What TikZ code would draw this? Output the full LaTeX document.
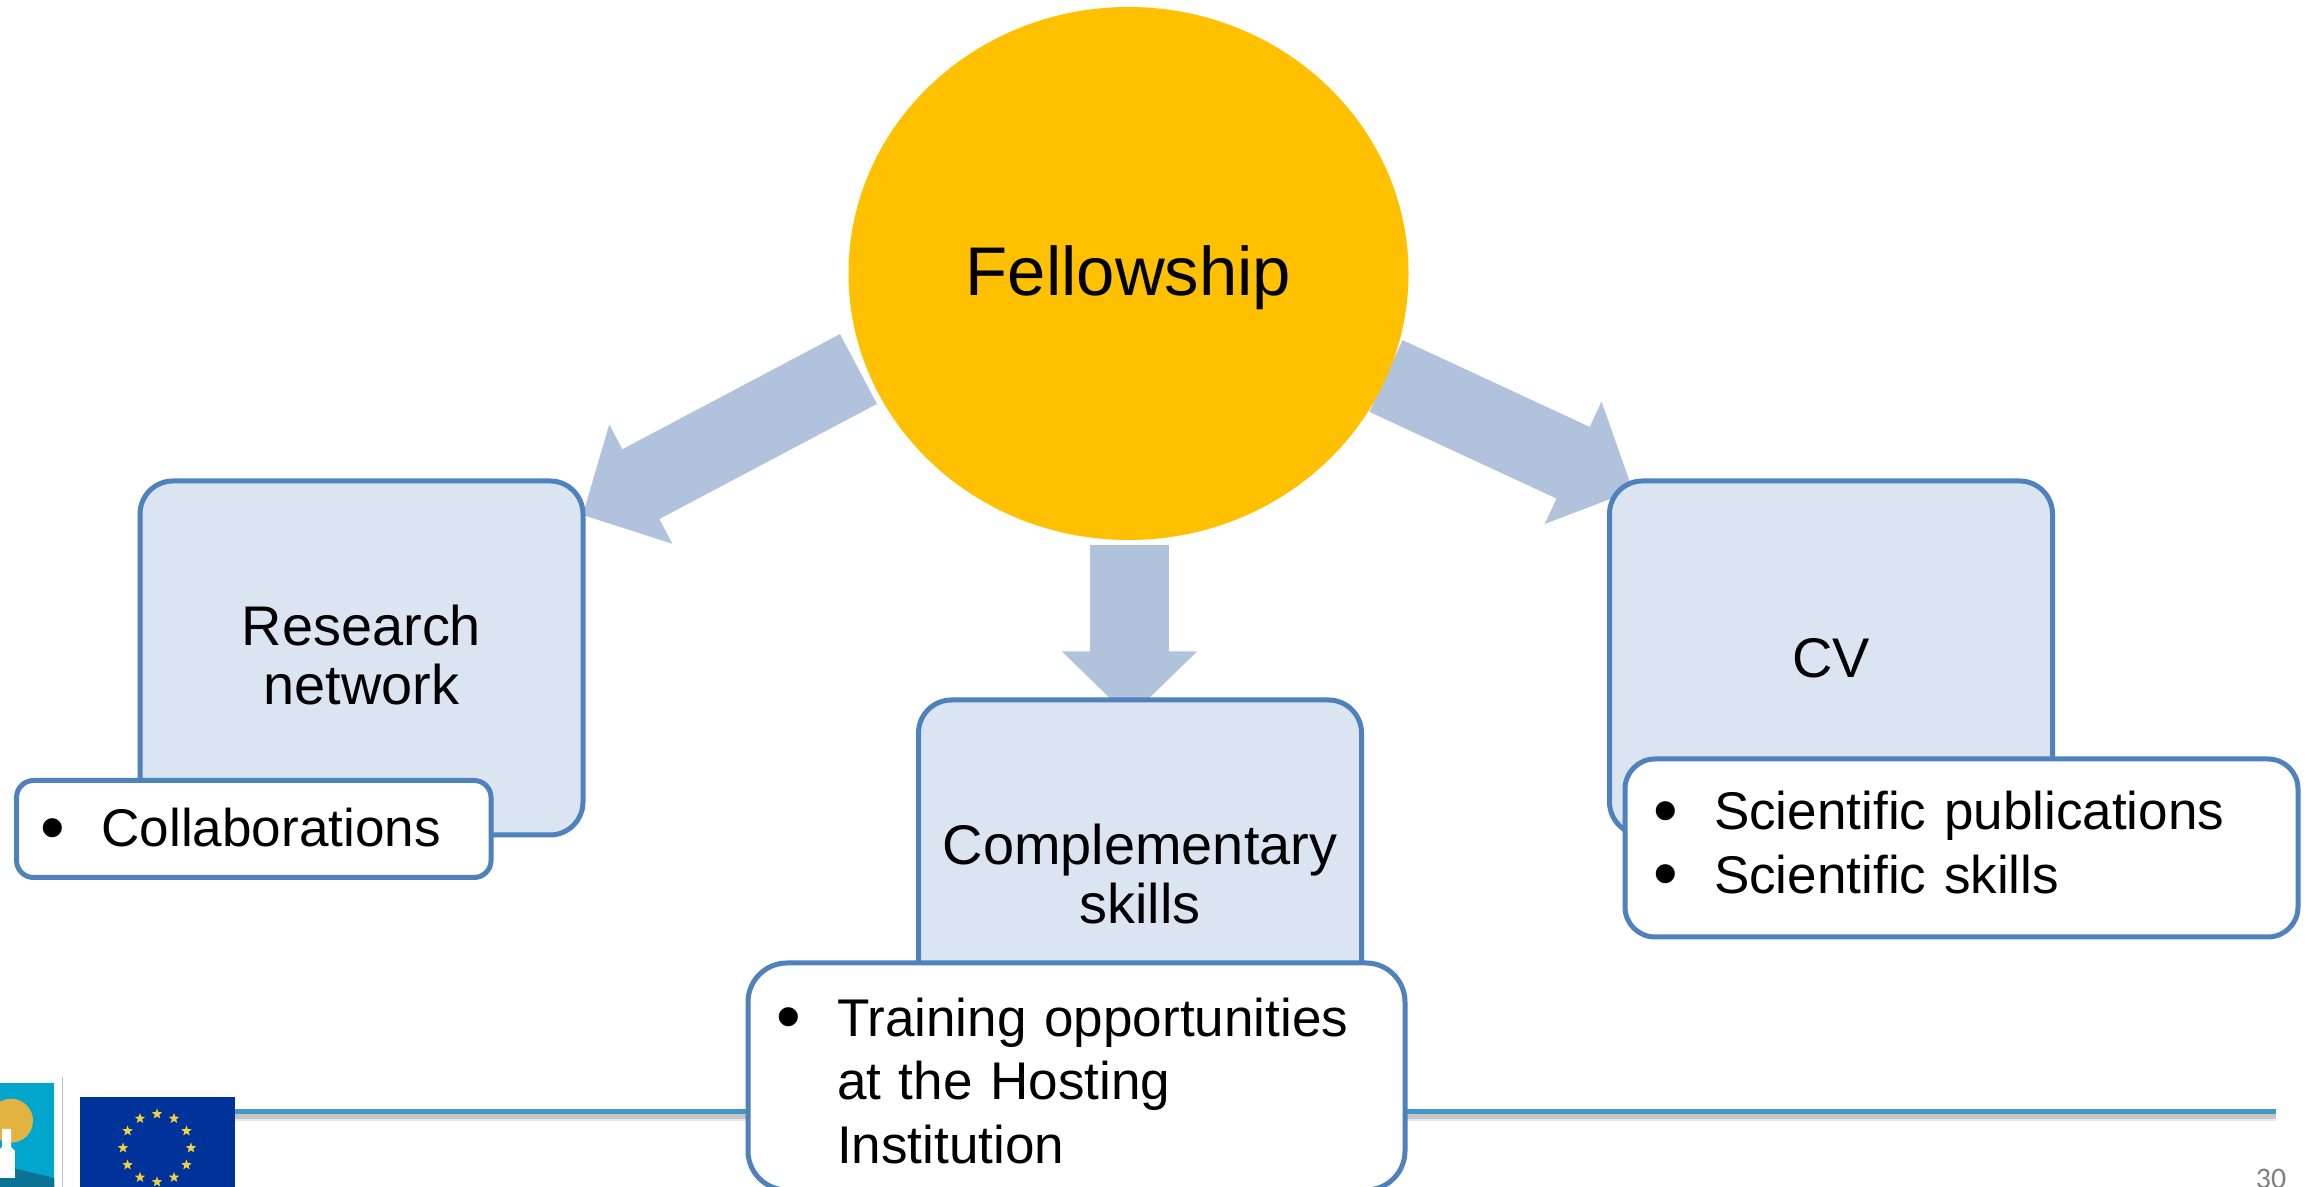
\documentclass[tikz,border=0pt]{standalone}
\usepackage{fontspec}
\setmainfont{Liberation Sans}
\newfontfamily\pagefont{Carlito}
\usetikzlibrary{shapes.geometric, backgrounds, arrows.meta}

\definecolor{fellowgold}{HTML}{FFC000}
\definecolor{arrowblue}{HTML}{B1C2DD}
\definecolor{boxblue}{HTML}{DBE5F1}
\definecolor{edgeblue}{HTML}{4F81BD}
\definecolor{ruleblue}{HTML}{4198C6}
\definecolor{flagblue}{HTML}{003399}
\definecolor{stargold}{HTML}{F4D03F}
\definecolor{logosky}{HTML}{00A6CC}
\definecolor{logosun}{HTML}{E3B341}
\definecolor{logosea}{HTML}{0B7396}

\newlength{\bulletgap}
\setlength{\bulletgap}{0.61cm}
\newcommand{\bigbullet}{\raisebox{-0.045cm}{\fontsize{20pt}{18pt}\selectfont\textbullet}}
\newcommand{\bulletrow}[1]{\makebox[\bulletgap][l]{\bigbullet}#1}

\tikzset{
	fellownode/.style={ellipse, fill=fellowgold, minimum width=5.6cm, minimum height=5.33cm, inner sep=0pt, text depth=0.055cm, font=\fontsize{19.6pt}{23pt}\selectfont},
	topicbox/.style={rectangle, draw=edgeblue, fill=boxblue, line width=0.05cm, rounded corners=0.33cm, minimum width=4.43cm, minimum height=3.54cm, align=center, font=\fontsize{15.9pt}{16.9pt}\selectfont},
	notebox/.style={rectangle, draw=edgeblue, fill=white, line width=0.05cm, align=left, inner xsep=0.28cm, inner ysep=0pt, font=\fontsize{15.1pt}{18.1pt}\selectfont},
	blockarrow/.style={draw=arrowblue, line width=0.79cm, -{Triangle[length=0.66cm, width=1.31cm]}},
	flagstar/.style={star, star points=5, star point ratio=2.4, fill=stargold, minimum size=0.11cm, inner sep=0pt}
}

\begin{document}
\begin{tikzpicture}
	\useasboundingbox (0, 0) rectangle (23.12, 11.87);

	% main nodes
	\node[fellownode] (fellowship) at (11.285, 9.135) {Fellowship};
	\node[topicbox, text depth=0.06cm] (research) at (3.615, 5.29) {Research\\network};
	\node[topicbox, text depth=0.06cm] (skills) at (11.40, 3.10) {Complementary\\skills};
	\node[topicbox] (cv) at (18.31, 5.29) {CV};

	% notes on top of the boxes
	\node[notebox, inner xsep=0.24cm, text width=4.265cm, minimum height=0.97cm, rounded corners=0.17cm, text depth=0.03cm] (collab) at (2.538, 3.58) {\bulletrow{Collaborations}};
	\node[notebox, text width=6.17cm, minimum height=1.78cm, rounded corners=0.3cm, text depth=0.75cm] (science) at (19.615, 3.39) {\bulletrow{Scientific publications}\\\bulletrow{Scientific skills}};
	\node[notebox, text width=6.01cm, minimum height=2.27cm, rounded corners=0.39cm, text depth=1.19cm] (training) at (10.765, 1.105) {\bulletrow{Training opportunities}\\\hspace*{\bulletgap}at the Hosting\\\hspace*{\bulletgap}Institution};

	\coordinate (leftstart) at (8.585, 8.18);
	\coordinate (rightstart) at (13.86, 8.11);
	\coordinate (rulestart) at (2.35, 0.757);
	\coordinate (ruleend) at (22.757, 0.757);

	\begin{scope}[on background layer]
		% arrows out of the circle
		\draw[blockarrow] (leftstart) -- ([shift={(-0.03, -0.025)}]research.33);
		\draw[blockarrow] ([shift={(0.01, -0.04)}]fellowship.south) -- ([shift={(0.01, -0.20)}]fellowship.south |- skills.north);
		\draw[blockarrow] (rightstart) -- ([shift={(0.26, -0.12)}]cv.north west);

		% footer line
		\draw[gray!20, line width=0.09cm] ([yshift=-0.05cm]rulestart) -- ([yshift=-0.05cm]ruleend);
		\draw[gray!45, line width=0.05cm] ([yshift=-0.05cm]rulestart) -- ([yshift=-0.05cm]ruleend);
		\draw[ruleblue, line width=0.05cm] (rulestart) -- (ruleend);
	\end{scope}

	% logo on the left
	\fill[logosky] (0, 0) rectangle (0.543, 1.04);
	\fill[logosun] (0.11, 0.663) circle (0.22);
	\fill[logosea] (0, 0.22) -- (0.543, 0.09) -- (0.543, 0) -- (0, 0) -- cycle;
	\fill[white] (0, 0.09) -- (0.15, 0.09) -- (0.15, 0.36) -- (0.11, 0.40) -- (0.11, 0.58) -- (0.02, 0.58) -- (0.02, 0.40) -- (0, 0.38) -- cycle;
	\draw[gray!50, line width=0.012cm] (0.627, 0) -- (0.627, 1.10);

	% flag
	\fill[flagblue] (0.80, 0) rectangle (2.35, 0.903);
	\foreach \a in {0, 30, ..., 330}
	\node[flagstar] at ({1.57 + 0.34*cos(\a)}, {0.39 + 0.34*sin(\a)}) {};

	% page number
	\node[anchor=base, text=gray, inner sep=0pt, font=\pagefont\fontsize{8.5pt}{10pt}\selectfont] (pagenum) at (22.71, -0.02) {30};
\end{tikzpicture}
\end{document}
